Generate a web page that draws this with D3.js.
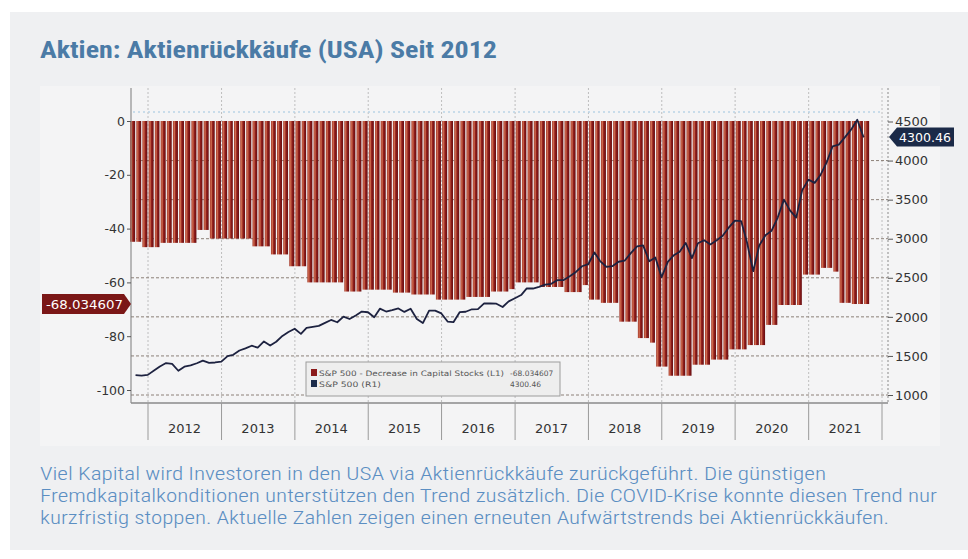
<!DOCTYPE html>
<html>
<head>
<meta charset="utf-8">
<script src="https://cdnjs.cloudflare.com/ajax/libs/d3/7.8.5/d3.min.js"></script>
<style>
  body { margin: 0; background: #fff; }
</style>
</head>
<body>
<div id="chart"></div>
<script>
var svgWidth = 968;
var svgHeight = 559;

var titleText = "Aktien: Aktienrückkäufe (USA) Seit 2012";
var captionLines = [
  "Viel Kapital wird Investoren in den USA via Aktienrückkäufe zurückgeführt. Die günstigen",
  "Fremdkapitalkonditionen unterstützen den Trend zusätzlich. Die COVID-Krise konnte diesen Trend nur",
  "kurzfristig stoppen. Aktuelle Zahlen zeigen einen erneuten Aufwärtstrends bei Aktienrückkäufen."
];

var years = [2012, 2013, 2014, 2015, 2016, 2017, 2018, 2019, 2020, 2021];
var leftTicks = [0, -20, -40, -60, -80, -100];
var rightTicks = [1000, 1500, 2000, 2500, 3000, 3500, 4000, 4500];

// monthly bars, Oct 2011 .. Oct 2021 (L1)
var buybackStart = "2011-10";
var buybacks = [
  -44.9, -44.9, -46.9, -46.9, -46.9, -45.3, -45.3, -45.3, -45.3, -45.3, -45.3, -40.5,
  -40.5, -43.7, -43.7, -43.7, -43.7, -43.7, -43.7, -43.7, -46.6, -46.6, -46.6, -49.6,
  -49.6, -49.6, -54.0, -54.0, -54.0, -60.0, -60.0, -60.0, -60.0, -60.0, -60.0, -63.4,
  -63.4, -63.4, -62.7, -62.7, -62.7, -62.7, -62.7, -63.8, -63.8, -63.8, -64.5, -64.5,
  -64.5, -64.5, -66.4, -66.4, -66.4, -66.4, -66.4, -65.4, -65.4, -65.4, -65.4, -63.4,
  -63.4, -63.4, -62.5, -60.0, -60.0, -60.0, -60.0, -61.7, -61.7, -61.7, -61.7, -63.6,
  -63.6, -63.6, -61.0, -66.4, -66.4, -67.6, -67.6, -67.6, -74.6, -74.6, -74.6, -80.7,
  -80.7, -82.4, -91.3, -91.3, -94.7, -94.7, -94.7, -94.7, -90.6, -90.6, -90.6, -88.7,
  -88.7, -88.7, -84.9, -84.9, -84.9, -83.3, -83.3, -83.3, -75.8, -75.8, -68.4, -68.4,
  -68.4, -68.4, -57.1, -57.1, -57.1, -54.6, -54.6, -56.0, -67.6, -67.6, -68.034607, -68.034607,
  -68.034607
];

// S&P 500 month-end closes, Oct 2011 .. Sep 2021 (R1)
var spxStart = "2011-10";
var spxClose = [
  1253.3, 1247.0, 1257.6,
  1312.4, 1365.7, 1408.5, 1397.9, 1310.3, 1362.2, 1379.3, 1406.6, 1440.7, 1412.2, 1416.2, 1426.2,
  1498.1, 1514.7, 1569.2, 1597.6, 1630.7, 1606.3, 1685.7, 1633.0, 1681.6, 1756.5, 1805.8, 1848.4,
  1782.6, 1859.5, 1872.3, 1884.0, 1923.6, 1960.2, 1930.7, 2003.4, 1972.3, 2018.1, 2067.6, 2058.9,
  1995.0, 2104.5, 2067.9, 2085.5, 2107.4, 2063.1, 2103.8, 1972.2, 1920.0, 2079.4, 2080.4, 2043.9,
  1940.2, 1932.2, 2059.7, 2065.3, 2097.0, 2098.9, 2173.6, 2171.0, 2168.3, 2126.2, 2198.8, 2238.8,
  2278.9, 2363.6, 2362.7, 2384.2, 2411.8, 2423.4, 2470.3, 2471.7, 2519.4, 2575.3, 2647.6, 2673.6,
  2823.8, 2713.8, 2640.9, 2648.1, 2705.3, 2718.4, 2816.3, 2901.5, 2914.0, 2711.7, 2760.2, 2506.9,
  2704.1, 2784.5, 2834.4, 2945.8, 2752.1, 2941.8, 2980.4, 2926.5, 2976.7, 3037.6, 3141.0, 3230.8,
  3225.5, 2954.2, 2584.6, 2912.4, 3044.3, 3100.3, 3271.1, 3500.3, 3363.0, 3270.0, 3621.6, 3756.1,
  3714.2, 3811.2, 3972.9, 4181.2, 4204.1, 4297.5, 4395.3, 4522.7, 4307.5
];
var spxLastDate = "2021-10-04";
var spxLast = 4300.46;

var legendNames = ["S&P 500 - Decrease in Capital Stocks (L1)", "S&P 500 (R1)"];
var legendValues = ["-68.034607", "4300.46"];
var legendColors = ["#8b1a1a", "#1c2b4a"];

var plot = { left: 131, right: 888, top: 88, bottom: 403 };

start();

function start() {
  var svg = d3.select("#chart")
    .append("svg")
    .attr("width", svgWidth)
    .attr("height", svgHeight)
    .style("display", "block");

  // panel
  svg.append("rect")
    .attr("x", 10).attr("y", 12)
    .attr("width", 958).attr("height", 538)
    .attr("fill", "#eff0f2");

  svg.append("rect")
    .attr("x", 40).attr("y", 86)
    .attr("width", 900).attr("height", 360)
    .attr("fill", "#f4f4f5");

  svg.append("text")
    .attr("x", 40)
    .attr("y", 58)
    .attr("font-family", "'Roboto Condensed', Roboto, 'DejaVu Sans', sans-serif")
    .attr("font-weight", "bold")
    .attr("font-size", "23px")
    .attr("fill", "#4b7ba6")
    .attr("textLength", 457)
    .attr("lengthAdjust", "spacingAndGlyphs")
    .text(titleText);

  var capLen = [786, 897, 849];
  captionLines.forEach((line, i) => {
    svg.append("text")
      .attr("x", 40)
      .attr("y", 480 + i * 22)
      .attr("font-family", "'Roboto Condensed', Roboto, 'DejaVu Sans', sans-serif")
      .attr("font-weight", "300")
      .attr("font-size", "18.5px")
      .attr("fill", "#5b8ec2")
      .attr("textLength", capLen[i])
      .attr("lengthAdjust", "spacingAndGlyphs")
      .text(line);
  });

  build(svg);
}

function build(svg) {
  var parseMonth = d3.timeParse("%Y-%m");
  var parseDay = d3.timeParse("%Y-%m-%d");

  var x = d3.scaleTime()
    .domain([new Date(2012, 0, 1), new Date(2022, 0, 1)])
    .range([148, 882]);

  var yL = d3.scaleLinear().domain([0, -100]).range([121, 390]);
  var yR = d3.scaleLinear().domain([1000, 4500]).range([395, 121.5]);

  var defs = svg.append("defs");
  var grad = defs.append("linearGradient")
    .attr("id", "barGrad")
    .attr("x1", 0).attr("x2", 1).attr("y1", 0).attr("y2", 0);
  grad.append("stop").attr("offset", "0%").attr("stop-color", "#a3362a");
  grad.append("stop").attr("offset", "30%").attr("stop-color", "#cf6d50");
  grad.append("stop").attr("offset", "55%").attr("stop-color", "#931f1c");
  grad.append("stop").attr("offset", "100%").attr("stop-color", "#640c10");

  var chartGroup = svg.append("g");

  // vertical year grid
  var bounds = years.concat([2022]);
  chartGroup.selectAll(".vgrid")
    .data(bounds)
    .enter()
    .append("line")
    .attr("class", "vgrid")
    .attr("x1", d => x(new Date(d, 0, 1)))
    .attr("x2", d => x(new Date(d, 0, 1)))
    .attr("y1", plot.top)
    .attr("y2", plot.bottom)
    .attr("stroke", "#b0b0b0")
    .attr("stroke-width", 0.8)
    .attr("stroke-dasharray", "2,2");

  // faint blue dotted line above bars
  chartGroup.append("line")
    .attr("x1", plot.left + 2).attr("x2", 880)
    .attr("y1", 112).attr("y2", 112)
    .attr("stroke", "#b9d3e6")
    .attr("stroke-width", 1.5)
    .attr("stroke-dasharray", "2,3");

  // horizontal grid (right axis)
  chartGroup.selectAll(".hgrid")
    .data(rightTicks.filter(d => d < 4500))
    .enter()
    .append("line")
    .attr("class", "hgrid")
    .attr("x1", plot.left)
    .attr("x2", plot.right)
    .attr("y1", d => yR(d))
    .attr("y2", d => yR(d))
    .attr("stroke", "#8c8078")
    .attr("stroke-width", 1)
    .attr("stroke-dasharray", "3,2");

  // bars
  var m0 = parseMonth(buybackStart);
  var barData = buybacks.map((v, i) => ({
    date: d3.timeMonth.offset(m0, i),
    next: d3.timeMonth.offset(m0, i + 1),
    value: v
  }));

  chartGroup.selectAll(".bar")
    .data(barData)
    .enter()
    .append("rect")
    .attr("class", "bar")
    .attr("x", d => x(d.date) + 0.6)
    .attr("width", d => x(d.next) - x(d.date) - 1.2)
    .attr("y", yL(0))
    .attr("height", d => yL(d.value) - yL(0))
    .attr("fill", "url(#barGrad)");

  // S&P 500 line
  var s0 = parseMonth(spxStart);
  var lineData = spxClose.map((v, i) => ({
    date: d3.timeDay.offset(d3.timeMonth.offset(s0, i + 1), -1),
    value: v
  }));
  lineData.push({ date: parseDay(spxLastDate), value: spxLast });

  var line = d3.line()
    .x(d => x(d.date))
    .y(d => yR(d.value));

  chartGroup.append("path")
    .datum(lineData)
    .attr("d", line)
    .attr("fill", "none")
    .attr("stroke", "#1d2240")
    .attr("stroke-width", 1.8)
    .attr("stroke-linejoin", "round");

  // axis frame
  chartGroup.append("line")
    .attr("x1", plot.left).attr("x2", plot.left)
    .attr("y1", plot.top).attr("y2", plot.bottom)
    .attr("stroke", "#7a7a7a");

  chartGroup.append("line")
    .attr("x1", plot.right).attr("x2", plot.right)
    .attr("y1", plot.top).attr("y2", plot.bottom)
    .attr("stroke", "#8a8a8a")
    .attr("stroke-dasharray", "2,2");

  chartGroup.append("line")
    .attr("x1", plot.left).attr("x2", plot.right)
    .attr("y1", plot.bottom).attr("y2", plot.bottom)
    .attr("stroke", "#8a8a8a")
    .attr("stroke-width", 1.5);

  // year separators under the axis
  chartGroup.selectAll(".ysep")
    .data(bounds)
    .enter()
    .append("line")
    .attr("class", "ysep")
    .attr("x1", d => x(new Date(d, 0, 1)))
    .attr("x2", d => x(new Date(d, 0, 1)))
    .attr("y1", plot.bottom)
    .attr("y2", 440)
    .attr("stroke", "#9a9a9a");

  chartGroup.selectAll(".yearLabel")
    .data(years)
    .enter()
    .append("text")
    .attr("class", "yearLabel")
    .attr("x", d => x(new Date(d, 6, 1)))
    .attr("y", 433)
    .attr("text-anchor", "middle")
    .attr("font-family", "'DejaVu Sans', sans-serif")
    .attr("font-size", "13px")
    .attr("fill", "#333")
    .text(d => d);

  var leftAxis = d3.axisLeft(yL)
    .tickValues(leftTicks)
    .tickSize(4)
    .tickPadding(2)
    .tickFormat(d => String(d));

  var gl = chartGroup.append("g")
    .attr("transform", `translate(${plot.left}, 0)`)
    .call(leftAxis);
  styleAxis(gl, "12.5px");

  var rightAxis = d3.axisRight(yR)
    .tickValues(rightTicks)
    .tickSize(5)
    .tickPadding(2)
    .tickFormat(d => String(d));

  var gr = chartGroup.append("g")
    .attr("transform", `translate(${plot.right}, 0)`)
    .call(rightAxis);
  styleAxis(gr, "13px");

  // value tags
  var ly = yL(buybacks[buybacks.length - 1]);
  chartGroup.append("path")
    .attr("d", `M42,${ly - 10}H124L${plot.left},${ly}L124,${ly + 10}H42Z`)
    .attr("fill", "#7b1717");
  chartGroup.append("text")
    .attr("x", 46)
    .attr("y", ly + 5)
    .attr("font-family", "'DejaVu Sans', sans-serif")
    .attr("font-size", "13px")
    .attr("fill", "#fff")
    .attr("textLength", 77)
    .attr("lengthAdjust", "spacingAndGlyphs")
    .text(legendValues[0]);

  var ry = yR(spxLast);
  chartGroup.append("path")
    .attr("d", `M${plot.right + 1},${ry}L897,${ry - 9.5}H954V${ry + 9.5}H897Z`)
    .attr("fill", "#1b2a48");
  chartGroup.append("text")
    .attr("x", 899)
    .attr("y", ry + 4.5)
    .attr("font-family", "'DejaVu Sans', sans-serif")
    .attr("font-size", "12.5px")
    .attr("fill", "#fff")
    .attr("textLength", 52)
    .attr("lengthAdjust", "spacingAndGlyphs")
    .text(legendValues[1]);

  legend(chartGroup);
}

function styleAxis(g, size) {
  g.select(".domain").remove();
  g.selectAll(".tick line").attr("stroke", "#555");
  g.selectAll(".tick text")
    .attr("font-family", "'DejaVu Sans', sans-serif")
    .attr("font-size", size)
    .attr("fill", "#333");
}

function legend(chartGroup) {
  var lg = chartGroup.append("g");

  lg.append("rect")
    .attr("x", 306).attr("y", 362)
    .attr("width", 254).attr("height", 34)
    .attr("fill", "#eeeeee")
    .attr("stroke", "#9c9c9c");

  var nameLen = [185, 62];
  legendNames.forEach((name, i) => {
    var cy = 373 + i * 11;
    lg.append("rect")
      .attr("x", 311).attr("y", cy - 4)
      .attr("width", 6).attr("height", 7)
      .attr("fill", legendColors[i]);
    lg.append("text")
      .attr("x", 319).attr("y", cy + 2.5)
      .attr("font-family", "'DejaVu Sans', sans-serif")
      .attr("font-size", "7.5px")
      .attr("fill", "#555")
      .attr("textLength", nameLen[i])
      .attr("lengthAdjust", "spacingAndGlyphs")
      .text(name);
    lg.append("text")
      .attr("x", 510).attr("y", cy + 2.5)
      .attr("font-family", "'DejaVu Sans', sans-serif")
      .attr("font-size", "7.5px")
      .attr("fill", "#555")
      .text(legendValues[i]);
  });
}
</script>
</body>
</html>
